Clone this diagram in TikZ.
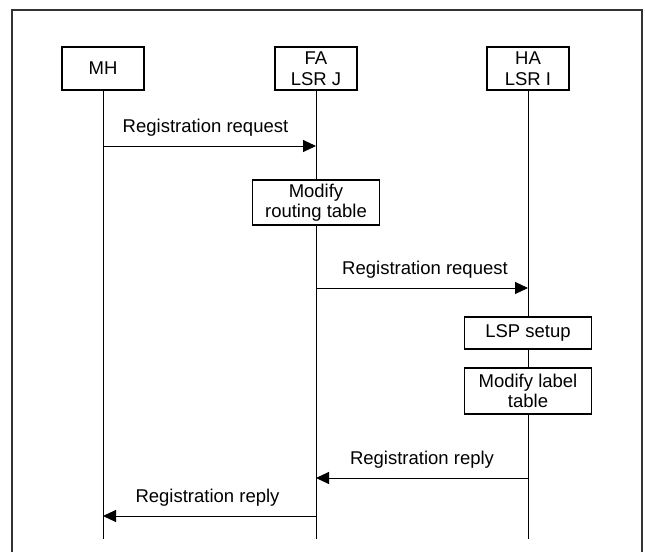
\documentclass[tikz,border=0pt]{standalone}
\usepackage{fontspec}
\setmainfont{Liberation Sans}
\usetikzlibrary{arrows.meta}

\begin{document}
\begin{tikzpicture}
[
    x=1pt, y=-1pt,
    box/.style={draw, line width=1.1pt, align=center, inner sep=0pt,
        font=\fontsize{18.5}{20.5}\selectfont},
    entity/.style={box, minimum width=82pt, minimum height=43pt},
    action/.style={box, minimum width=127pt},
    msg/.style={line width=1pt, -{Triangle[length=13pt, width=12pt]}},
    life/.style={line width=1pt},
    lbl/.style={inner sep=2pt, above=6.8pt, font=\fontsize{18.5}{20.5}\selectfont},
]
\useasboundingbox (0,0) rectangle (645,552);
\draw[line width=1.6pt, black!80] (12,552) -- (12,10) -- (642,10) -- (642,552);

\node[entity] (mh) at (103,68.5) {MH};
\node[entity] (fa) at (316,68.5) {FA\\LSR J};
\node[entity] (ha) at (528,68.5) {HA\\LSR I};

\node[action, minimum height=45pt] (route) at (316,202.5) {Modify\\routing table};
\node[action, minimum height=32pt] (lsp) at (528,333) {LSP setup};
\node[action, minimum height=46pt] (tbl) at (528,391) {Modify label\\table};

\coordinate (mhend) at (103,539);
\coordinate (faend) at (316,539);
\coordinate (haend) at (528,539);
\draw[life] (mh) -- (mhend);
\draw[life] (fa) -- (route) (route) -- (faend);
\draw[life] (ha) -- (lsp) (lsp) -- (tbl) (tbl) -- (haend);

\coordinate (mh1) at (103,146);
\coordinate (fa1) at (316,146);
\coordinate (fa2) at (316,288);
\coordinate (ha2) at (528,288);
\coordinate (ha3) at (528,478);
\coordinate (fa3) at (316,478);
\coordinate (fa4) at (316,516);
\coordinate (mh4) at (103,516);

\draw[msg] (mh1) -- (fa1) node[lbl, midway, xshift=-4pt] (req1) {Registration request};
\draw[msg] (fa2) -- (ha2) node[lbl, midway, xshift=3pt] (req2) {Registration request};
\draw[msg] (ha3) -- (fa3) node[lbl, midway] (rep1) {Registration reply};
\draw[msg] (fa4) -- (mh4) node[lbl, midway, xshift=-2pt] (rep2) {Registration reply};
\end{tikzpicture}
\end{document}
